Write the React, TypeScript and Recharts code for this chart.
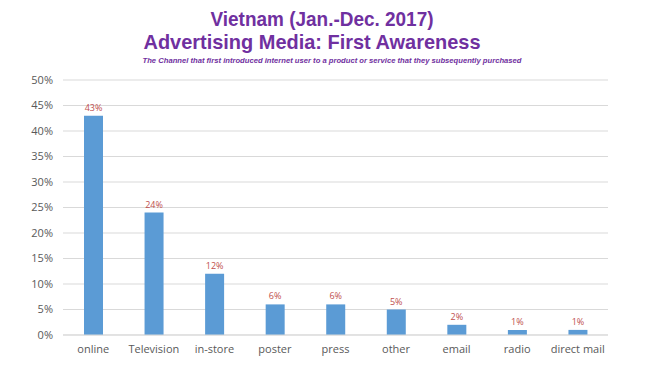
import React from "react";
import { BarChart, Bar, XAxis, YAxis, CartesianGrid, LabelList } from "recharts";

const categories = ["online", "Television", "in-store", "poster", "press", "other", "email", "radio", "direct mail"];
const shares = [43, 24, 12, 6, 6, 5, 2, 1, 1];
const yTicks = [0, 5, 10, 15, 20, 25, 30, 35, 40, 45, 50];

const data = categories.map((c, i) => ({ name: c, value: shares[i] }));

const FONT = "'Open Sans', 'Liberation Sans', sans-serif";
const TITLE_FONT = "'Liberation Sans', Arial, sans-serif";

export default function App() {
  return (
    <div style={{ position: "absolute", left: 0, top: 0, width: 650, height: 366, background: "#fff" }}>
      <svg width={650} height={366} style={{ position: "absolute", left: 0, top: 0 }}>
        <text x={322} y={26} textAnchor="middle" fontFamily={TITLE_FONT} fontWeight="bold" fontSize={21} fill="#7030A0" textLength={223} lengthAdjust="spacingAndGlyphs">
          Vietnam (Jan.-Dec. 2017)
        </text>
        <text x={312} y={49} textAnchor="middle" fontFamily={TITLE_FONT} fontWeight="bold" fontSize={21} fill="#7030A0" textLength={337} lengthAdjust="spacingAndGlyphs">
          Advertising Media: First Awareness
        </text>
        <text x={332} y={63} textAnchor="middle" fontFamily={TITLE_FONT} fontWeight="bold" fontStyle="italic" fontSize={8} fill="#7030A0" textLength={379} lengthAdjust="spacingAndGlyphs">
          The Channel that first introduced internet user to a product or service that they subsequently purchased
        </text>
      </svg>
      <div style={{ position: "absolute", left: 0, top: 0 }}>
        <BarChart width={650} height={366} data={data} margin={{ top: 80, right: 42, bottom: 1, left: 0 }}>
          <CartesianGrid vertical={false} stroke="#D9D9D9" />
          <XAxis
            dataKey="name"
            height={30}
            tickLine={false}
            axisLine={{ stroke: "#D9D9D9" }}
            tick={{ fill: "#595959", fontSize: 11, fontFamily: FONT }}
            tickMargin={4}
            interval={0}
          />
          <YAxis
            width={63}
            domain={[0, 50]}
            ticks={yTicks}
            tickFormatter={(v: number) => `${v}%`}
            axisLine={false}
            tickLine={false}
            tick={{ fill: "#595959", fontSize: 11, fontFamily: FONT }}
            tickMargin={4}
          />
          <Bar dataKey="value" fill="#5B9BD5" barSize={19} isAnimationActive={false}>
            <LabelList
              dataKey="value"
              position="top"
              offset={5}
              formatter={(v: number) => `${v}%`}
              style={{ fill: "#C0504D", fontSize: 9, fontFamily: FONT }}
            />
          </Bar>
        </BarChart>
      </div>
    </div>
  );
}
